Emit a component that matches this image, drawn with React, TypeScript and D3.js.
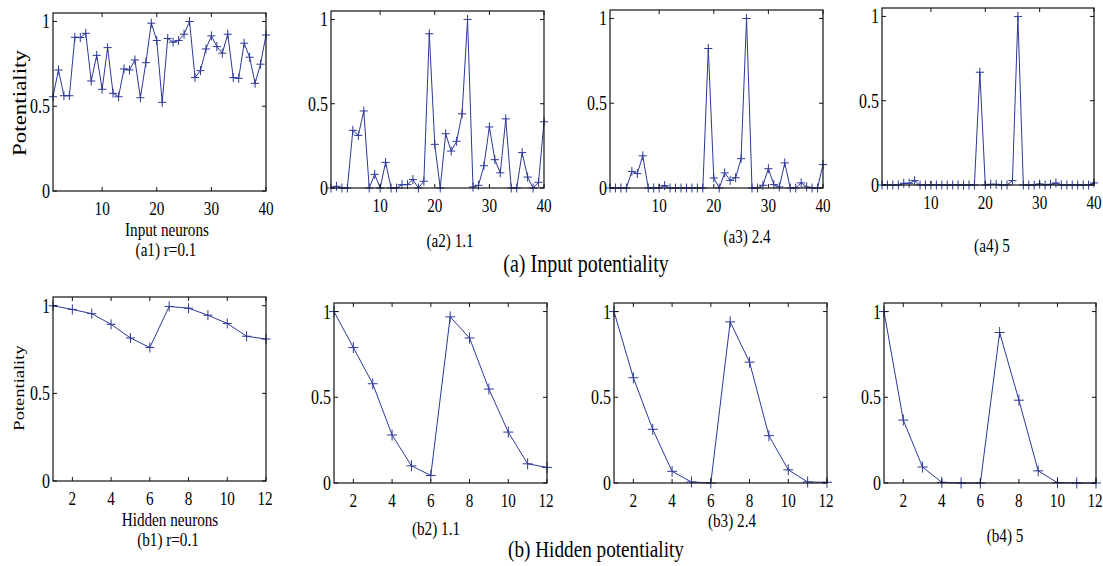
import React from "react";
import * as d3 from "d3";

// input neurons 1..40
const inputR01 = [0.556, 0.714, 0.562, 0.562, 0.907, 0.905, 0.93, 0.649, 0.8, 0.6, 0.846, 0.576, 0.556, 0.72, 0.714, 0.773, 0.55, 0.757, 0.99, 0.888, 0.523, 0.9, 0.878, 0.888, 0.925, 1.0, 0.67, 0.71, 0.838, 0.915, 0.852, 0.813, 0.925, 0.669, 0.665, 0.872, 0.789, 0.635, 0.748, 0.92];
const inputR11 = [0, 0.01, 0, 0, 0.342, 0.312, 0.457, 0, 0.081, 0, 0.152, 0, 0, 0.02, 0.02, 0.05, 0, 0.04, 0.915, 0.259, 0, 0.322, 0.219, 0.277, 0.44, 1.0, 0.006, 0.016, 0.132, 0.362, 0.168, 0.09, 0.41, 0, 0, 0.21, 0.065, 0, 0.034, 0.393];
const inputR24 = [0, 0, 0, 0, 0.098, 0.085, 0.19, 0, 0, 0, 0.014, 0, 0, 0, 0, 0, 0, 0, 0.823, 0.059, 0, 0.089, 0.045, 0.061, 0.173, 1.0, 0, 0, 0.016, 0.114, 0.02, 0.006, 0.148, 0, 0, 0.03, 0.006, 0, 0, 0.138];
const inputR5 = [0, 0, 0, 0, 0.01, 0.01, 0.026, 0, 0, 0, 0, 0, 0, 0, 0, 0, 0, 0, 0.669, 0, 0.004, 0.004, 0, 0, 0.026, 1.0, 0, 0, 0, 0.006, 0, 0.004, 0.012, 0, 0, 0, 0, 0, 0, 0.012];

// hidden neurons 1..12
const hiddenR01 = [1.0, 0.979, 0.955, 0.894, 0.816, 0.762, 0.996, 0.986, 0.946, 0.899, 0.826, 0.81];
const hiddenR11 = [1.0, 0.79, 0.579, 0.28, 0.1, 0.044, 0.969, 0.846, 0.548, 0.297, 0.112, 0.091];
const hiddenR24 = [1.0, 0.614, 0.313, 0.068, 0.006, 0, 0.94, 0.705, 0.276, 0.077, 0.006, 0.004];
const hiddenR5 = [1.0, 0.367, 0.093, 0.004, 0, 0, 0.878, 0.483, 0.071, 0.002, 0, 0];

const inputTicks = [10, 20, 30, 40];
const hiddenTicks = [2, 4, 6, 8, 10, 12];
const yTicks = [0, 0.5, 1];
const yTickLabels = ["0", "0.5", "1"];

const FONT = "'Liberation Serif', 'Times New Roman', serif";
const BLUE = "#2c3898";
const SX = 0.8;

type Panel = {
  data: number[];
  ticks: number[];
  box: [number, number, number, number];
  caption: string;
  capPos: [number, number];
  xlabel?: [string, number, number];
  ylabel?: [number, number, number];
  plus: number;
};

const panels: Panel[] = [
  { data: inputR01, ticks: inputTicks, box: [53, 13, 266, 191], caption: "(a1) r=0.1", capPos: [166, 256], xlabel: ["Input neurons", 167, 236], ylabel: [26, 103, 23], plus: 4.5 },
  { data: inputR11, ticks: inputTicks, box: [331, 11, 544, 188], caption: "(a2) 1.1", capPos: [450, 247], plus: 4.5 },
  { data: inputR24, ticks: inputTicks, box: [610, 10, 823, 188], caption: "(a3) 2.4", capPos: [747, 243], plus: 4.5 },
  { data: inputR5, ticks: inputTicks, box: [882, 8, 1094, 185], caption: "(a4) 5", capPos: [992, 252], plus: 4.5 },
  { data: hiddenR01, ticks: hiddenTicks, box: [53, 297, 266, 481], caption: "(b1) r=0.1", capPos: [168, 546], xlabel: ["Hidden neurons", 170, 526], ylabel: [24, 388, 18.5], plus: 5 },
  { data: hiddenR11, ticks: hiddenTicks, box: [334, 303, 547, 483], caption: "(b2) 1.1", capPos: [436, 535], plus: 5.5 },
  { data: hiddenR24, ticks: hiddenTicks, box: [614, 303, 827, 483], caption: "(b3) 2.4", capPos: [732, 527], plus: 5.5 },
  { data: hiddenR5, ticks: hiddenTicks, box: [884, 303, 1096, 483], caption: "(b4) 5", capPos: [1005, 542], plus: 5.5 },
];

const T = ({ x, y, size, anchor = "middle", rotate = false, dy, children }: any) => (
  <g transform={`translate(${x},${y}) scale(${SX},1)${rotate ? " rotate(-90)" : ""}`}>
    <text textAnchor={anchor} fontSize={size} fontFamily={FONT} fill="#000" dy={dy}>
      {children}
    </text>
  </g>
);

const Chart = ({ p }: { p: Panel }) => {
  const [l, t, r, b] = p.box;
  const n = p.data.length;
  const x = d3.scaleLinear().domain([1, n]).range([l, r]);
  const y = d3.scaleLinear().domain([0, 1.05]).range([b, t]);
  const line = d3
    .line<number>()
    .x((_, i) => x(i + 1))
    .y((d) => y(d));
  const tl = 4;
  const ph = p.plus;
  return (
    <g>
      <path d={line(p.data) || ""} fill="none" stroke={BLUE} strokeWidth={1} />
      {p.data.map((d, i) => (
        <path
          key={i}
          d={`M${x(i + 1) - ph * 0.9},${y(d)}H${x(i + 1) + ph * 0.9}M${x(i + 1)},${y(d) - ph}V${y(d) + ph}`}
          stroke={BLUE}
          strokeWidth={1}
        />
      ))}
      <rect x={l} y={t} width={r - l} height={b - t} fill="none" stroke="#111" strokeWidth={1.2} />
      {p.ticks.map((v) => (
        <g key={v}>
          <line x1={x(v)} x2={x(v)} y1={b} y2={b - tl} stroke="#111" />
          <line x1={x(v)} x2={x(v)} y1={t} y2={t + tl} stroke="#111" />
          <T x={x(v) - (v === 12 ? 1 : 0)} y={b + 24} size={19}>
            {v}
          </T>
        </g>
      ))}
      {yTicks.map((v, i) => (
        <g key={v}>
          <line x1={l} x2={l + tl} y1={y(v)} y2={y(v)} stroke="#111" />
          <line x1={r} x2={r - tl} y1={y(v)} y2={y(v)} stroke="#111" />
          <T x={l - 3} y={y(v)} size={20} anchor="end" dy="0.35em">
            {yTickLabels[i]}
          </T>
        </g>
      ))}
      {p.xlabel && (
        <T x={p.xlabel[1]} y={p.xlabel[2]} size={19}>
          {p.xlabel[0]}
        </T>
      )}
      {p.ylabel && (
        <T x={p.ylabel[0]} y={p.ylabel[1]} size={p.ylabel[2]} rotate>
          Potentiality
        </T>
      )}
      <T x={p.capPos[0]} y={p.capPos[1]} size={19}>
        {p.caption}
      </T>
    </g>
  );
};

export default function App() {
  return (
    <svg
      width={1103}
      height={566}
      style={{ position: "absolute", left: 0, top: 0, background: "#fff" }}
    >
      {panels.map((p, i) => (
        <Chart key={i} p={p} />
      ))}
      <T x={586} y={272} size={25}>
        (a) Input potentiality
      </T>
      <T x={596} y={557} size={24}>
        (b) Hidden potentiality
      </T>
    </svg>
  );
}
